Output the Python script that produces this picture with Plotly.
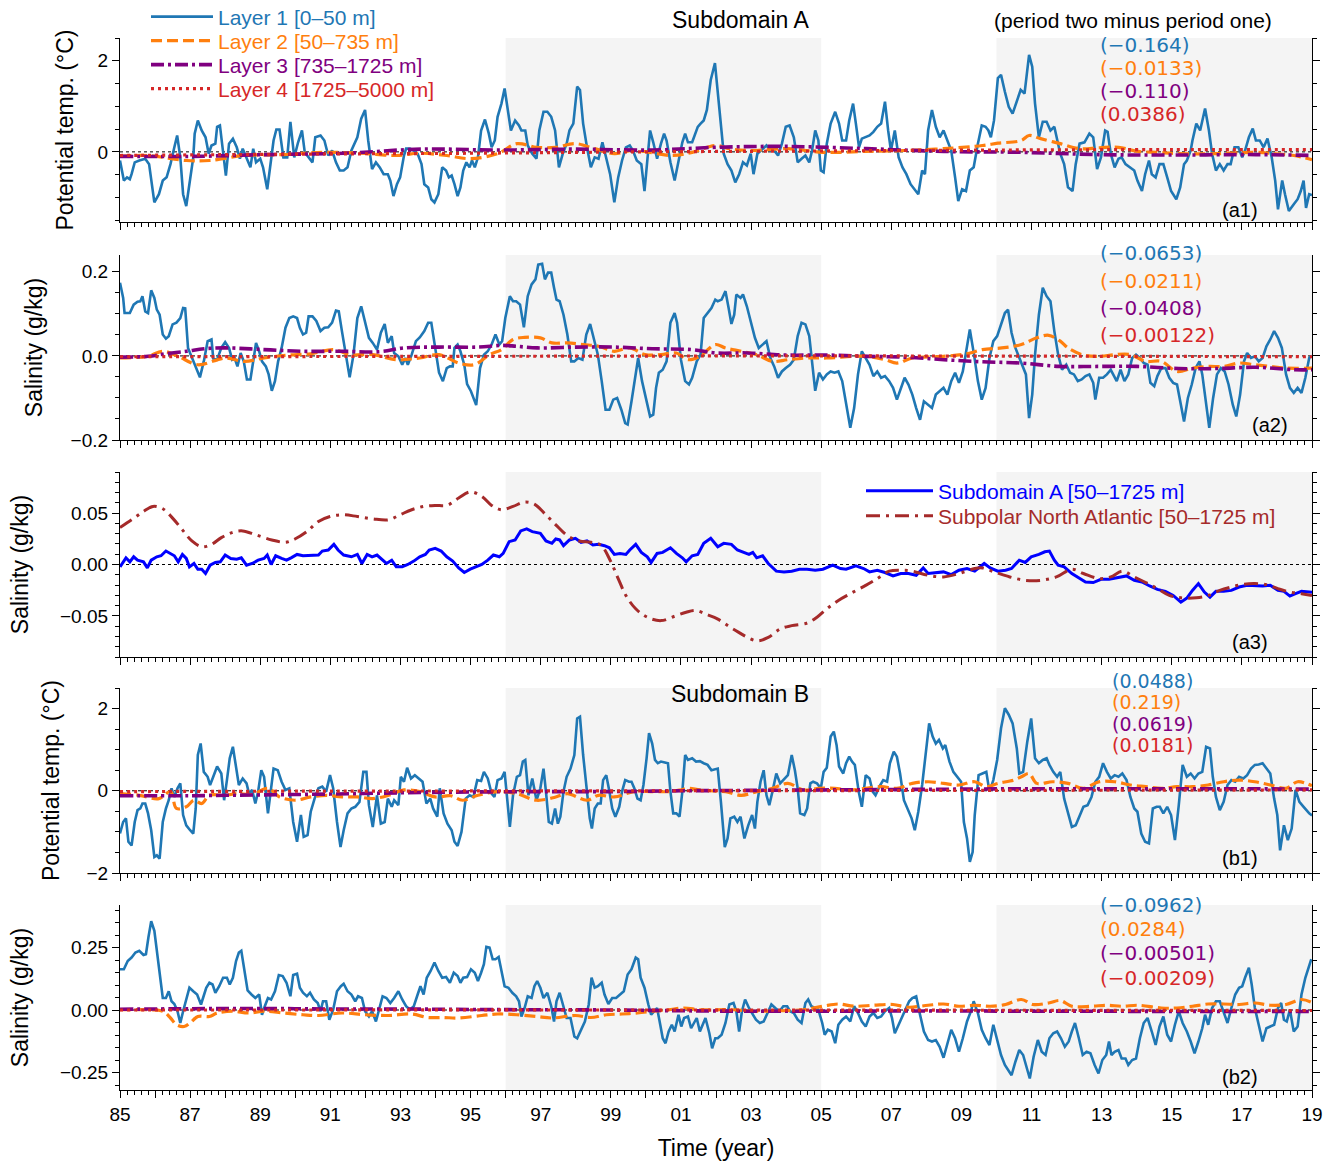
import plotly.graph_objects as go

# ---------------------------------------------------------------- data
# (year, anomaly) pairs
# Panel a1 – Subdomain A potential temperature (°C)
a1_l1 = [
(1985.00,-0.19),(1985.11,-0.63),(1985.20,-0.56),(1985.28,-0.60),(1985.33,-0.49),(1985.42,-0.23),(1985.55,-0.19),(1985.72,-0.15),(1985.83,-0.27),(1985.98,-1.11),
(1986.11,-0.93),(1986.22,-0.63),(1986.33,-0.56),(1986.44,-0.27),(1986.55,0.10),(1986.63,0.36),(1986.72,-0.12),(1986.80,-0.93),(1986.89,-1.19),
(1987.00,-0.56),(1987.09,-0.12),(1987.13,0.40),(1987.22,0.69),(1987.33,0.47),(1987.44,0.32),(1987.53,-0.04),(1987.61,0.14),(1987.72,0.18),(1987.77,0.55),(1987.85,0.58),(1987.92,0.10),
(1988.02,-0.52),(1988.11,0.18),(1988.22,0.29),(1988.33,0.10),(1988.42,-0.15),(1988.50,0.07),(1988.61,-0.15),(1988.72,-0.34),(1988.80,0.07),(1988.88,-0.23),
(1989.00,-0.15),(1989.08,-0.34),(1989.20,-0.82),(1989.31,-0.12),(1989.38,0.25),(1989.46,0.49),(1989.55,0.49),(1989.66,-0.12),(1989.77,-0.12),(1989.86,0.66),(1989.97,-0.12),
(1990.08,0.21),(1990.19,0.47),(1990.27,-0.01),(1990.38,-0.12),(1990.49,-0.23),(1990.57,0.32),(1990.72,0.36),(1990.83,0.25),(1990.94,-0.08),
(1991.05,0.03),(1991.16,-0.23),(1991.27,-0.41),(1991.38,-0.41),(1991.49,-0.34),(1991.60,0.03),(1991.77,0.32),(1991.88,0.73),(1991.99,0.92),
(1992.08,0.25),(1992.19,-0.38),(1992.30,-0.23),(1992.41,-0.34),(1992.52,-0.49),(1992.64,-0.49),(1992.71,-0.63),(1992.80,-0.97),(1992.90,-0.71),(1992.99,-0.56),
(1993.10,-0.08),(1993.16,0.07),(1993.27,0.07),(1993.38,0.03),(1993.49,-0.04),(1993.60,-0.27),(1993.68,-0.71),(1993.79,-0.78),(1993.88,-1.04),(1993.97,-1.11),
(1994.08,-0.93),(1994.19,-0.34),(1994.30,-0.41),(1994.38,-0.56),(1994.46,-0.52),(1994.54,-0.71),(1994.63,-0.97),(1994.71,-0.78),(1994.79,-0.41),(1994.88,-0.23),(1994.97,-0.34),
(1995.04,-0.19),(1995.12,-0.34),(1995.21,-0.12),(1995.30,0.47),(1995.41,0.71),(1995.52,0.40),(1995.60,0.10),(1995.69,0.25),(1995.77,0.77),(1995.88,1.06),(1995.97,1.39),
(1996.04,0.99),(1996.15,0.47),(1996.27,0.69),(1996.38,0.58),(1996.45,0.47),(1996.56,0.47),(1996.63,0.14),(1996.76,-0.04),(1996.88,-0.15),(1996.96,0.47),
(1997.08,0.88),(1997.19,0.88),(1997.30,0.77),(1997.41,0.47),(1997.52,-0.34),(1997.63,-0.04),(1997.74,0.18),(1997.82,0.47),(1997.93,0.62),
(1998.04,1.43),(1998.12,1.36),(1998.21,0.62),(1998.32,0.10),(1998.43,-0.34),(1998.54,-0.12),(1998.65,-0.15),(1998.76,0.21),(1998.87,-0.12),(1998.98,-0.49),
(1999.10,-1.11),(1999.21,-0.56),(1999.32,-0.19),(1999.43,0.10),(1999.54,0.14),(1999.63,0.03),(1999.74,-0.19),(1999.87,-0.27),(1999.96,-0.86),
(2000.04,-0.12),(2000.12,0.47),(2000.21,0.21),(2000.32,-0.15),(2000.43,0.18),(2000.52,0.40),(2000.59,0.25),(2000.70,-0.23),(2000.82,-0.63),(2000.93,-0.19),
(2001.04,0.21),(2001.12,0.40),(2001.20,0.21),(2001.32,0.21),(2001.37,0.32),(2001.48,0.55),(2001.56,0.62),(2001.65,0.69),(2001.74,0.92),(2001.85,1.58),(2001.97,1.95),
(2002.07,1.21),(2002.22,-0.04),(2002.33,-0.27),(2002.44,-0.41),(2002.55,-0.67),(2002.66,-0.49),(2002.77,-0.23),(2002.88,-0.30),(2002.99,-0.04),
(2003.07,-0.49),(2003.18,-0.04),(2003.33,0.07),(2003.44,0.14),(2003.55,0.03),(2003.66,0.03),(2003.77,-0.08),(2003.88,0.18),(2003.99,0.55),
(2004.10,0.58),(2004.22,0.32),(2004.33,-0.23),(2004.44,-0.15),(2004.55,-0.08),(2004.66,-0.23),(2004.74,0.03),(2004.83,0.47),(2004.92,0.25),(2004.99,-0.41),
(2005.07,-0.45),(2005.16,0.18),(2005.27,0.62),(2005.40,0.88),(2005.51,0.62),(2005.60,0.25),(2005.71,0.25),(2005.80,0.69),(2005.91,1.06),(2005.99,0.62),
(2006.08,0.10),(2006.16,0.29),(2006.25,0.32),(2006.38,0.36),(2006.49,0.44),(2006.60,0.55),(2006.71,0.62),(2006.82,1.10),(2006.91,0.47),(2006.99,0.03),
(2007.10,0.47),(2007.21,-0.12),(2007.32,-0.34),(2007.43,-0.49),(2007.55,-0.71),(2007.66,-0.82),(2007.77,-0.93),(2007.88,-0.41),(2007.96,-0.49),
(2008.05,0.47),(2008.16,0.92),(2008.27,0.55),(2008.38,0.32),(2008.49,0.47),(2008.60,0.25),(2008.71,0.03),(2008.82,-0.56),(2008.91,-1.08),
(2009.02,-0.82),(2009.13,-0.86),(2009.24,-0.41),(2009.35,-0.34),(2009.47,0.18),(2009.58,0.58),(2009.69,0.55),(2009.77,0.47),(2009.84,0.32),(2009.93,0.69),
(2010.04,1.62),(2010.13,1.69),(2010.24,1.32),(2010.35,0.99),(2010.46,0.84),(2010.58,1.14),(2010.69,1.36),(2010.80,1.28),(2010.93,2.13),
(2011.02,1.87),(2011.10,1.06),(2011.21,0.32),(2011.32,0.66),(2011.43,0.66),(2011.54,0.47),(2011.65,0.55),(2011.74,0.25),(2011.82,-0.04),(2011.93,-0.27),
(2012.04,-0.78),(2012.17,-0.86),(2012.26,-0.27),(2012.37,0.18),(2012.51,0.21),(2012.65,0.40),(2012.76,0.32),(2012.87,-0.38),(2012.98,-0.12),
(2013.10,0.47),(2013.17,0.44),(2013.26,-0.04),(2013.37,-0.34),(2013.48,-0.15),(2013.57,-0.12),(2013.68,-0.27),(2013.79,-0.34),(2013.93,-0.41),
(2014.02,-0.63),(2014.15,-0.86),(2014.24,-0.49),(2014.35,-0.19),(2014.43,-0.49),(2014.54,-0.56),(2014.65,-0.27),(2014.76,-0.27),(2014.87,-0.56),(2014.98,-0.86),
(2015.13,-1.04),(2015.24,-0.78),(2015.35,-0.27),(2015.43,-0.19),(2015.54,0.03),(2015.59,0.25),(2015.70,0.62),(2015.81,0.47),(2015.95,0.95),
(2016.06,0.47),(2016.15,-0.04),(2016.26,-0.41),(2016.37,-0.27),(2016.48,-0.41),(2016.59,-0.27),(2016.68,-0.27),(2016.79,0.10),(2016.90,0.10),
(2017.01,-0.12),(2017.09,0.03),(2017.20,0.32),(2017.31,0.51),(2017.40,0.25),(2017.51,0.25),(2017.62,0.10),(2017.73,0.29),(2017.85,-0.12),(2017.95,-0.63),
(2018.03,-1.26),(2018.15,-0.63),(2018.23,-0.93),(2018.34,-1.30),(2018.48,-1.15),(2018.59,-1.04),(2018.68,-0.86),(2018.76,-0.63),(2018.83,-1.23),(2018.92,-0.93),(2019.00,-0.95)]
a1_l2 = [(1985.00,-0.10),(1985.78,-0.08),(1986.89,-0.19),(1987.55,-0.19),(1988.55,-0.08),(1989.66,-0.06),(1990.77,-0.01),(1991.88,-0.03),(1992.88,-0.08),
(1993.55,-0.03),(1994.32,-0.08),(1994.99,-0.15),(1995.77,-0.04),(1996.32,0.18),(1996.88,0.10),(1997.43,0.10),(1997.99,0.18),(1998.54,0.07),(1999.10,-0.04),
(1999.65,0.03),(2000.76,-0.08),(2001.32,-0.01),(2001.98,0.14),(2002.38,0.07),(2002.94,0.03),(2004.05,0.07),(2005.05,-0.01),(2006.27,0.01),(2007.38,0.03),
(2008.49,0.07),(2009.60,0.14),(2010.04,0.19),(2010.71,0.25),(2010.93,0.36),(2011.26,0.29),(2011.82,0.18),(2012.37,0.07),(2012.93,0.09),(2013.48,0.10),
(2014.04,0.01),(2014.59,-0.01),(2015.15,-0.04),(2016.26,-0.04),(2017.37,-0.01),(2017.92,-0.04),(2018.48,-0.08),(2019.00,-0.17)]
a1_l3 = [(1985.0,-0.10),(1987.0,-0.10),(1989.2,-0.06),(1991.4,-0.03),(1993.6,0.06),(1995.8,0.04),(1998.0,0.06),(2000.2,0.04),(2002.0,0.10),(2004.0,0.12),
(2006.3,0.07),(2008.5,0.01),(2010.7,-0.01),(2012.9,-0.06),(2015.1,-0.07),(2017.4,-0.06),(2019.0,-0.08)]
a1_l4 = [(1985.0,-0.08),(1990.0,-0.05),(1995.0,-0.03),(2000.0,0.0),(2005.0,0.02),(2010.0,0.04),(2015.0,0.05),(2019.0,0.05)]

# Panel a2 – Subdomain A salinity (g/kg)
a2_l1 = [
(1985.00,0.174),(1985.09,0.138),(1985.13,0.102),(1985.28,0.102),(1985.39,0.122),(1985.50,0.129),(1985.58,0.130),(1985.64,0.142),(1985.72,0.106),(1985.80,0.102),(1985.89,0.156),(1985.98,0.138),
(1986.05,0.110),(1986.13,0.098),(1986.22,0.051),(1986.31,0.041),(1986.39,0.047),(1986.50,0.075),(1986.61,0.079),(1986.72,0.090),(1986.80,0.114),(1986.86,0.113),(1986.94,0.019),
(1987.05,-0.005),(1987.16,-0.029),(1987.28,-0.051),(1987.39,-0.013),(1987.50,0.035),(1987.61,0.039),(1987.66,-0.006),(1987.77,-0.009),(1987.89,0.019),
(1988.00,0.033),(1988.11,0.019),(1988.20,-0.009),(1988.27,-0.005),(1988.35,-0.025),(1988.44,0.007),(1988.53,-0.013),(1988.62,-0.056),(1988.72,-0.056),(1988.80,-0.013),(1988.88,0.031),(1988.97,0.011),
(1989.05,-0.013),(1989.16,-0.025),(1989.24,-0.044),(1989.33,-0.083),(1989.42,-0.060),(1989.51,-0.013),(1989.61,0.019),(1989.72,0.067),(1989.83,0.090),(1989.94,0.094),
(1990.05,0.090),(1990.13,0.067),(1990.22,0.051),(1990.31,0.055),(1990.38,0.094),(1990.49,0.094),(1990.60,0.083),(1990.72,0.059),(1990.83,0.067),(1990.94,0.068),
(1991.05,0.079),(1991.16,0.108),(1991.24,0.106),(1991.33,0.059),(1991.44,0.003),(1991.55,-0.051),(1991.66,0.003),(1991.77,0.090),(1991.88,0.118),(1991.99,0.079),
(1992.10,0.043),(1992.21,0.031),(1992.33,0.015),(1992.44,0.055),(1992.55,0.076),(1992.64,0.031),(1992.75,0.047),(1992.82,0.007),(1992.94,-0.001),
(1993.05,-0.021),(1993.14,-0.005),(1993.21,-0.021),(1993.32,0.003),(1993.44,0.035),(1993.55,0.044),(1993.68,0.059),(1993.79,0.079),(1993.88,0.079),(1993.99,0.019),
(1994.10,-0.040),(1994.21,-0.060),(1994.32,-0.029),(1994.41,-0.025),(1994.49,-0.025),(1994.54,0.019),(1994.63,0.027),(1994.71,0.011),(1994.82,-0.021),(1994.90,-0.067),
(1995.01,-0.084),(1995.16,-0.117),(1995.27,-0.029),(1995.38,0.003),(1995.49,0.011),(1995.60,0.027),(1995.71,0.051),(1995.82,0.027),(1995.90,0.035),(1995.99,0.090),
(1996.12,0.142),(1996.21,0.130),(1996.30,0.130),(1996.41,0.122),(1996.52,0.068),(1996.63,0.142),(1996.74,0.170),(1996.85,0.182),(1996.93,0.217),
(1997.04,0.219),(1997.12,0.182),(1997.21,0.198),(1997.30,0.198),(1997.38,0.162),(1997.45,0.134),(1997.54,0.130),(1997.65,0.098),(1997.76,0.051),(1997.87,-0.013),(1997.96,-0.013),
(1998.07,-0.005),(1998.19,-0.009),(1998.30,0.051),(1998.41,0.076),(1998.52,0.039),(1998.63,0.003),(1998.74,-0.060),(1998.85,-0.128),(1998.96,-0.128),
(1999.07,-0.104),(1999.18,-0.100),(1999.30,-0.128),(1999.41,-0.160),(1999.48,-0.163),(1999.59,-0.108),(1999.71,-0.044),(1999.78,-0.005),(1999.89,-0.060),
(2000.01,-0.108),(2000.12,-0.144),(2000.21,-0.140),(2000.29,-0.076),(2000.37,-0.040),(2000.48,-0.033),(2000.59,-0.013),(2000.70,0.079),(2000.82,0.102),(2000.89,0.079),
(2001.00,-0.009),(2001.12,-0.060),(2001.23,-0.068),(2001.32,-0.052),(2001.45,-0.013),(2001.56,0.003),(2001.65,0.090),(2001.76,0.102),(2001.87,0.114),(2001.98,0.134),
(2002.05,0.130),(2002.16,0.134),(2002.27,0.154),(2002.36,0.114),(2002.44,0.076),(2002.52,0.098),(2002.58,0.146),(2002.70,0.138),(2002.77,0.146),(2002.88,0.118),(2002.99,0.083),
(2003.11,0.043),(2003.22,0.019),(2003.33,0.027),(2003.44,0.035),(2003.55,-0.005),(2003.66,-0.025),(2003.77,-0.052),(2003.88,-0.037),(2003.99,-0.029),
(2004.11,-0.021),(2004.22,-0.009),(2004.33,0.047),(2004.44,0.079),(2004.55,0.075),(2004.66,0.047),(2004.74,-0.013),(2004.83,-0.083),(2004.94,-0.040),
(2005.05,-0.056),(2005.16,-0.044),(2005.27,-0.037),(2005.38,-0.040),(2005.49,-0.037),(2005.60,-0.060),(2005.71,-0.116),(2005.83,-0.171),(2005.94,-0.124),
(2006.05,-0.044),(2006.16,0.011),(2006.27,-0.005),(2006.38,-0.021),(2006.49,-0.048),(2006.60,-0.037),(2006.71,-0.052),(2006.82,-0.048),(2006.94,-0.060),
(2007.05,-0.076),(2007.16,-0.104),(2007.27,-0.076),(2007.38,-0.052),(2007.49,-0.068),(2007.60,-0.092),(2007.71,-0.124),(2007.82,-0.152),(2007.93,-0.108),
(2008.05,-0.116),(2008.16,-0.124),(2008.27,-0.092),(2008.38,-0.084),(2008.49,-0.076),(2008.60,-0.092),(2008.71,-0.060),(2008.82,-0.040),(2008.93,-0.064),
(2009.04,-0.037),(2009.16,0.019),(2009.24,0.063),(2009.36,0.003),(2009.47,-0.060),(2009.58,-0.104),(2009.69,-0.076),(2009.80,-0.005),(2009.91,0.035),
(2010.02,0.047),(2010.13,0.075),(2010.24,0.102),(2010.33,0.110),(2010.43,0.055),(2010.54,0.019),(2010.65,-0.005),(2010.76,-0.029),(2010.84,-0.044),(2010.93,-0.148),
(2011.02,-0.092),(2011.10,0.003),(2011.21,0.098),(2011.32,0.162),(2011.43,0.142),(2011.54,0.130),(2011.65,0.059),(2011.76,0.003),(2011.87,-0.033),(2011.99,-0.021),
(2012.10,-0.040),(2012.21,-0.044),(2012.32,-0.060),(2012.43,-0.056),(2012.54,-0.048),(2012.65,-0.044),(2012.76,-0.064),(2012.82,-0.104),(2012.93,-0.052),
(2013.04,-0.052),(2013.15,-0.044),(2013.26,-0.033),(2013.43,-0.060),(2013.54,-0.033),(2013.65,-0.060),(2013.76,-0.044),(2013.87,-0.005),(2013.98,0.003),
(2014.09,-0.005),(2014.20,-0.017),(2014.31,-0.021),(2014.39,-0.064),(2014.50,-0.072),(2014.59,-0.048),(2014.70,-0.029),(2014.82,-0.029),(2014.93,-0.052),
(2015.04,-0.064),(2015.15,-0.068),(2015.26,-0.116),(2015.35,-0.156),(2015.46,-0.100),(2015.57,-0.068),(2015.68,-0.029),(2015.79,-0.013),(2015.87,-0.044),(2015.98,-0.116),
(2016.07,-0.171),(2016.18,-0.100),(2016.29,-0.044),(2016.40,-0.029),(2016.51,-0.037),(2016.62,-0.068),(2016.74,-0.116),(2016.84,-0.144),(2016.95,-0.092),
(2017.06,-0.013),(2017.15,0.007),(2017.26,-0.005),(2017.37,-0.001),(2017.48,-0.013),(2017.59,-0.005),(2017.70,0.023),(2017.81,0.039),(2017.92,0.059),
(2018.03,0.043),(2018.14,0.019),(2018.26,-0.044),(2018.37,-0.076),(2018.48,-0.088),(2018.59,-0.076),(2018.70,-0.088),(2018.81,-0.052),(2018.92,-0.005),(2019.00,0.000)]
a2_l2 = [(1985.00,-0.005),(1985.78,-0.001),(1986.22,0.011),(1986.66,-0.001),(1987.22,-0.021),(1988.00,-0.005),(1988.55,-0.013),(1989.11,-0.005),(1989.77,0.002),
(1990.44,0.005),(1991.10,0.015),(1991.55,0.003),(1992.21,0.003),(1992.88,-0.009),(1993.55,-0.005),(1994.10,0.003),(1994.66,-0.017),(1995.10,-0.021),(1995.54,0.003),
(1995.88,0.015),(1996.21,0.039),(1996.54,0.044),(1996.99,0.043),(1997.32,0.031),(1997.76,0.031),(1998.21,0.027),(1998.65,0.023),(1999.10,0.011),(1999.54,0.019),
(1999.98,0.003),(2000.43,0.003),(2000.87,0.007),(2001.20,-0.009),(2001.54,-0.001),(2001.98,0.027),(2002.27,0.019),(2002.72,0.011),(2003.16,0.003),(2003.61,-0.013),
(2004.05,-0.009),(2004.60,-0.005),(2005.16,-0.005),(2006.27,-0.001),(2006.82,-0.009),(2007.16,-0.017),(2007.60,-0.005),(2008.49,-0.001),(2009.16,0.005),(2009.60,0.015),
(2010.15,0.019),(2010.71,0.027),(2011.15,0.043),(2011.49,0.049),(2011.82,0.035),(2012.04,0.019),(2012.48,0.002),(2012.93,-0.001),(2013.37,0.003),(2013.82,0.003),
(2014.26,-0.013),(2014.70,-0.013),(2015.15,-0.037),(2015.59,-0.029),(2016.04,-0.025),(2016.48,-0.025),(2016.92,-0.017),(2017.37,-0.021),(2017.81,-0.025),(2018.26,-0.029),(2019.00,-0.029)]
a2_l3 = [(1985.0,-0.003),(1985.8,-0.001),(1986.3,0.005),(1986.9,0.011),(1987.4,0.017),(1988.0,0.019),(1989.1,0.015),(1990.2,0.011),(1991.3,0.011),(1992.4,0.010),
(1993.1,0.019),(1994.1,0.021),(1995.2,0.021),(1995.9,0.025),(1996.3,0.023),(1996.9,0.019),(1998.0,0.021),(1999.1,0.021),(2000.2,0.017),(2001.3,0.015),(2002.0,0.007),
(2002.9,0.007),(2004.0,0.002),(2005.2,0.002),(2006.3,-0.001),(2007.4,-0.003),(2008.5,-0.009),(2009.6,-0.014),(2010.7,-0.017),(2011.8,-0.025),(2012.9,-0.025),
(2014.0,-0.025),(2015.2,-0.030),(2016.3,-0.030),(2017.4,-0.027),(2018.5,-0.033),(2019.0,-0.033)]
a2_l4 = [(1985.0,-0.002),(1995.0,-0.001),(2005.0,0.000),(2019.0,-0.002)]

# Panel a3 – salinity 50–1725 m (g/kg)
a3_sub_a = [
(1985.00,-0.0023),(1985.17,0.0065),(1985.28,0.0026),(1985.39,0.0075),(1985.50,0.0042),(1985.67,0.0026),(1985.78,-0.0033),(1985.89,0.0042),(1986.05,0.0075),(1986.17,0.0085),
(1986.31,0.0131),(1986.42,0.0108),(1986.55,0.0085),(1986.66,0.0026),(1986.78,0.0098),(1986.89,0.0059),(1986.98,-0.0023),(1987.11,0.0010),(1987.22,-0.0046),(1987.33,-0.0046),
(1987.44,-0.0088),(1987.57,-0.0007),(1987.72,0.0020),(1987.86,0.0026),(1988.00,0.0092),(1988.16,0.0059),(1988.33,0.0052),(1988.46,0.0065),(1988.61,-0.0007),(1988.77,0.0010),
(1988.94,0.0042),(1989.11,0.0059),(1989.20,0.0092),(1989.31,0.0000),(1989.44,0.0085),(1989.61,0.0059),(1989.75,0.0042),(1989.88,0.0065),(1990.05,0.0098),(1990.22,0.0085),
(1990.44,0.0085),(1990.66,0.0092),(1990.77,0.0131),(1990.94,0.0141),(1991.10,0.0196),(1991.22,0.0141),(1991.38,0.0092),(1991.60,0.0075),(1991.77,0.0098),(1991.90,0.0010),
(1992.05,0.0098),(1992.19,0.0075),(1992.33,0.0092),(1992.44,0.0059),(1992.60,0.0010),(1992.75,0.0042),(1992.88,-0.0023),(1993.05,-0.0023),(1993.21,0.0000),(1993.38,0.0033),
(1993.55,0.0075),(1993.71,0.0098),(1993.82,0.0141),(1993.99,0.0157),(1994.16,0.0131),(1994.32,0.0075),(1994.49,0.0033),(1994.66,-0.0033),(1994.82,-0.0078),(1994.99,-0.0046),
(1995.16,-0.0023),(1995.32,0.0000),(1995.49,0.0042),(1995.65,0.0092),(1995.82,0.0075),(1995.93,0.0108),(1996.10,0.0222),(1996.27,0.0239),(1996.43,0.0327),(1996.60,0.0346),
(1996.76,0.0320),(1996.99,0.0304),(1997.15,0.0229),(1997.32,0.0206),(1997.43,0.0248),(1997.54,0.0239),(1997.65,0.0183),(1997.82,0.0239),(1997.99,0.0255),(1998.15,0.0216),
(1998.32,0.0229),(1998.49,0.0190),(1998.65,0.0196),(1998.82,0.0183),(1998.96,0.0163),(1999.10,0.0098),(1999.26,0.0108),(1999.43,0.0098),(1999.54,0.0141),(1999.71,0.0196),
(1999.87,0.0118),(2000.04,0.0075),(2000.15,0.0020),(2000.32,0.0108),(2000.48,0.0118),(2000.70,0.0163),(2000.87,0.0108),(2001.04,0.0065),(2001.15,0.0026),(2001.32,0.0085),
(2001.48,0.0098),(2001.65,0.0206),(2001.85,0.0255),(2002.05,0.0173),(2002.22,0.0206),(2002.44,0.0196),(2002.61,0.0141),(2002.77,0.0118),(2002.94,0.0098),(2003.05,0.0118),
(2003.16,0.0065),(2003.33,0.0085),(2003.49,0.0010),(2003.72,-0.0065),(2003.94,-0.0072),(2004.16,-0.0065),(2004.38,-0.0046),(2004.60,-0.0046),(2004.83,-0.0056),(2005.05,-0.0046),
(2005.33,-0.0007),(2005.55,-0.0039),(2005.71,-0.0046),(2005.99,-0.0013),(2006.21,-0.0039),(2006.38,-0.0072),(2006.60,-0.0056),(2006.82,-0.0078),(2007.05,-0.0111),(2007.27,-0.0088),
(2007.49,-0.0088),(2007.71,-0.0105),(2007.91,-0.0033),(2008.05,-0.0088),(2008.27,-0.0078),(2008.49,-0.0072),(2008.71,-0.0098),(2008.93,-0.0056),(2009.16,-0.0039),(2009.38,-0.0065),
(2009.65,0.0010),(2009.82,-0.0033),(2010.04,-0.0065),(2010.26,-0.0056),(2010.43,-0.0039),(2010.65,0.0042),(2010.82,0.0020),(2010.99,0.0075),(2011.21,0.0098),(2011.38,0.0124),
(2011.51,0.0131),(2011.65,0.0042),(2011.76,-0.0007),(2011.93,-0.0023),(2012.15,-0.0088),(2012.32,-0.0121),(2012.54,-0.0170),(2012.76,-0.0176),(2012.98,-0.0144),(2013.21,-0.0144),
(2013.43,-0.0131),(2013.71,-0.0111),(2013.93,-0.0154),(2014.15,-0.0170),(2014.37,-0.0209),(2014.59,-0.0242),(2014.82,-0.0261),(2015.04,-0.0301),(2015.26,-0.0366),(2015.43,-0.0327),
(2015.59,-0.0252),(2015.76,-0.0186),(2015.93,-0.0268),(2016.09,-0.0317),(2016.26,-0.0261),(2016.48,-0.0261),(2016.70,-0.0252),(2016.92,-0.0219),(2017.15,-0.0203),(2017.37,-0.0209),
(2017.59,-0.0209),(2017.81,-0.0203),(2018.03,-0.0252),(2018.20,-0.0261),(2018.37,-0.0307),(2018.53,-0.0284),(2018.70,-0.0261),(2018.92,-0.0268),(2019.00,-0.0270)]
a3_spna = [
(1985.00,0.0359),(1985.33,0.0435),(1985.67,0.0516),(1985.94,0.0565),(1986.22,0.0542),(1986.50,0.0451),(1986.78,0.0337),(1987.05,0.0229),(1987.33,0.0173),(1987.61,0.0196),
(1987.89,0.0261),(1988.22,0.0314),(1988.50,0.0327),(1988.88,0.0288),(1989.33,0.0239),(1989.72,0.0216),(1989.99,0.0248),(1990.33,0.0320),(1990.66,0.0418),(1990.99,0.0467),
(1991.33,0.0484),(1991.77,0.0467),(1992.21,0.0444),(1992.66,0.0435),(1992.99,0.0484),(1993.32,0.0533),(1993.66,0.0565),(1993.99,0.0575),(1994.32,0.0575),(1994.66,0.0647),
(1994.99,0.0706),(1995.32,0.0663),(1995.60,0.0575),(1995.88,0.0533),(1996.21,0.0565),(1996.54,0.0608),(1996.82,0.0588),(1997.10,0.0500),(1997.43,0.0386),(1997.76,0.0281),
(1998.10,0.0229),(1998.43,0.0216),(1998.71,0.0190),(1998.98,0.0042),(1999.21,-0.0137),(1999.43,-0.0301),(1999.71,-0.0431),(2000.04,-0.0513),(2000.43,-0.0546),(2000.82,-0.0503),
(2001.15,-0.0464),(2001.43,-0.0448),(2001.76,-0.0490),(2002.04,-0.0529),(2002.50,-0.0630),(2003.16,-0.0742),(2003.49,-0.0709),(2003.83,-0.0627),(2004.16,-0.0595),(2004.60,-0.0569),
(2004.88,-0.0513),(2005.16,-0.0431),(2005.49,-0.0350),(2005.83,-0.0284),(2006.27,-0.0203),(2006.60,-0.0137),(2006.94,-0.0065),(2007.27,-0.0056),(2007.60,-0.0065),(2008.05,-0.0105),
(2008.49,-0.0121),(2008.93,-0.0088),(2009.38,-0.0039),(2009.60,-0.0033),(2009.93,-0.0072),(2010.38,-0.0121),(2010.82,-0.0154),(2011.26,-0.0154),(2011.71,-0.0121),(2012.15,-0.0046),
(2012.48,-0.0088),(2012.93,-0.0137),(2013.26,-0.0121),(2013.59,-0.0065),(2013.93,-0.0121),(2014.26,-0.0176),(2014.59,-0.0235),(2014.93,-0.0301),(2015.26,-0.0324),(2015.70,-0.0324),
(2016.04,-0.0301),(2016.37,-0.0252),(2016.70,-0.0219),(2017.04,-0.0193),(2017.37,-0.0186),(2017.70,-0.0196),(2018.03,-0.0235),(2018.37,-0.0268),(2018.70,-0.0284),(2019.00,-0.0301)]

# Panel b1 – Subdomain B potential temperature (°C)
b1_l1 = [
(1985.00,-1.04),(1985.09,-0.76),(1985.17,-0.67),(1985.24,-1.24),(1985.33,-1.33),(1985.42,-0.76),(1985.50,-0.47),(1985.58,-0.43),(1985.64,-0.31),(1985.72,-0.31),(1985.80,-0.55),(1985.89,-0.96),(1985.98,-1.61),
(1986.05,-1.57),(1986.13,-1.65),(1986.22,-0.76),(1986.31,-0.43),(1986.39,-0.23),(1986.47,0.06),(1986.55,-0.15),(1986.64,0.06),(1986.72,0.18),(1986.80,-0.59),(1986.89,-0.84),
(1987.00,-0.96),(1987.09,-1.04),(1987.16,-0.43),(1987.22,0.87),(1987.30,1.15),(1987.39,0.46),(1987.50,0.34),(1987.57,0.14),(1987.66,0.34),(1987.77,0.59),(1987.89,0.42),(1987.97,-0.23),
(1988.05,0.26),(1988.13,0.79),(1988.22,1.07),(1988.31,0.63),(1988.39,0.14),(1988.50,0.30),(1988.61,0.18),(1988.68,-0.07),(1988.77,0.02),(1988.86,-0.31),(1988.94,-0.02),
(1989.03,0.50),(1989.11,0.34),(1989.22,-0.55),(1989.31,0.14),(1989.38,0.54),(1989.50,0.50),(1989.61,0.22),(1989.72,0.02),(1989.83,0.06),(1989.94,-0.76),
(1990.05,-1.24),(1990.16,-0.59),(1990.24,-1.12),(1990.35,-1.08),(1990.44,-0.51),(1990.55,-0.19),(1990.66,0.06),(1990.77,0.10),(1990.88,-0.02),(1990.99,0.38),
(1991.08,0.06),(1991.19,-0.76),(1991.29,-1.37),(1991.38,-0.96),(1991.49,-0.55),(1991.60,-0.43),(1991.71,-0.39),(1991.83,-0.27),(1991.94,0.46),
(1992.03,0.46),(1992.10,-0.35),(1992.21,-0.88),(1992.33,-0.11),(1992.44,-0.80),(1992.55,-0.76),(1992.64,-0.19),(1992.75,-0.39),(1992.82,-0.23),(1992.94,-0.35),
(1993.01,0.34),(1993.10,0.22),(1993.19,0.56),(1993.30,0.30),(1993.41,0.38),(1993.52,0.30),(1993.63,0.22),(1993.74,-0.31),(1993.85,-0.19),(1993.93,-0.43),
(1994.05,-0.63),(1994.12,0.06),(1994.23,-0.55),(1994.34,-0.80),(1994.46,-0.96),(1994.54,-1.24),(1994.63,-1.34),(1994.74,-1.00),(1994.86,-0.19),(1994.97,-0.11),
(1995.08,-0.15),(1995.19,0.26),(1995.30,0.24),(1995.38,0.46),(1995.49,0.30),(1995.60,-0.07),(1995.68,-0.15),(1995.77,0.26),(1995.88,0.30),(1995.97,0.46),
(1996.04,-0.15),(1996.12,-0.88),(1996.21,-0.11),(1996.32,0.34),(1996.41,0.38),(1996.49,0.71),(1996.56,0.75),(1996.65,-0.11),(1996.76,0.30),(1996.88,-0.23),(1996.99,0.06),
(1997.08,0.54),(1997.15,-0.02),(1997.23,-0.76),(1997.32,-0.80),(1997.41,-0.43),(1997.49,-0.80),(1997.56,-0.63),(1997.65,-0.02),(1997.74,0.34),(1997.85,0.54),(1997.96,0.87),
(1998.04,1.76),(1998.12,1.80),(1998.21,0.87),(1998.32,-0.02),(1998.40,-0.67),(1998.46,-0.92),(1998.54,-0.43),(1998.63,-0.31),(1998.71,-0.31),(1998.78,0.26),(1998.87,0.38),(1998.96,-0.02),
(1999.04,-0.43),(1999.13,-0.63),(1999.24,-0.39),(1999.32,-0.02),(1999.41,0.26),(1999.52,0.22),(1999.59,0.22),(1999.67,0.06),(1999.76,-0.19),(1999.85,-0.23),(1999.93,0.14),
(2000.02,0.79),(2000.09,1.40),(2000.18,1.15),(2000.26,0.75),(2000.34,0.67),(2000.43,0.71),(2000.54,0.69),(2000.63,0.67),(2000.70,-0.02),(2000.78,-0.55),(2000.87,-0.55),(2000.96,-0.63),
(2001.04,-0.02),(2001.12,0.87),(2001.20,0.75),(2001.32,0.79),(2001.43,0.71),(2001.54,0.72),(2001.65,0.67),(2001.76,0.63),(2001.87,0.50),(2001.96,0.52),
(2002.05,0.54),(2002.14,-0.27),(2002.25,-1.37),(2002.33,-1.16),(2002.41,-0.67),(2002.52,-0.63),(2002.61,-0.76),(2002.70,-0.63),(2002.81,-1.16),(2002.92,-0.84),
(2003.03,-0.59),(2003.11,-0.92),(2003.18,-0.27),(2003.27,0.22),(2003.36,0.50),(2003.44,-0.11),(2003.52,-0.35),(2003.61,-0.02),(2003.72,0.42),(2003.83,0.18),(2003.96,0.30),
(2004.05,0.38),(2004.16,0.87),(2004.25,0.50),(2004.33,0.06),(2004.40,-0.55),(2004.52,-0.59),(2004.60,-0.43),(2004.69,0.18),(2004.77,0.22),(2004.88,0.18),(2004.99,0.06),
(2005.07,0.46),(2005.16,0.56),(2005.27,1.32),(2005.36,1.44),(2005.44,1.11),(2005.51,0.59),(2005.63,0.42),(2005.71,0.67),(2005.80,0.83),(2005.88,0.71),(2005.96,0.63),
(2006.07,-0.02),(2006.16,-0.39),(2006.27,0.38),(2006.38,0.30),(2006.47,-0.02),(2006.55,-0.11),(2006.66,0.10),(2006.77,0.26),(2006.88,0.22),(2006.96,0.67),
(2007.07,0.95),(2007.16,0.83),(2007.25,0.42),(2007.36,-0.23),(2007.47,-0.47),(2007.58,-0.67),(2007.67,-0.96),(2007.77,-0.51),(2007.88,0.14),(2007.99,0.95),
(2008.08,1.64),(2008.18,1.32),(2008.27,1.15),(2008.36,1.24),(2008.47,1.03),(2008.54,1.11),(2008.66,0.71),(2008.77,0.46),(2008.88,0.34),(2008.99,0.22),
(2009.07,-0.76),(2009.16,-1.16),(2009.24,-1.73),(2009.32,-1.49),(2009.38,-0.59),(2009.49,0.38),(2009.60,0.42),(2009.71,0.46),(2009.80,-0.02),(2009.91,0.26),
(2010.02,0.75),(2010.13,1.52),(2010.24,2.01),(2010.35,1.85),(2010.46,1.64),(2010.58,1.03),(2010.65,0.42),(2010.76,0.46),(2010.88,1.20),(2010.99,1.76),
(2011.10,0.79),(2011.21,0.67),(2011.32,0.75),(2011.43,0.79),(2011.51,0.63),(2011.62,0.46),(2011.73,0.34),(2011.82,0.46),(2011.93,-0.19),
(2012.04,-0.55),(2012.15,-0.88),(2012.26,-0.84),(2012.37,-0.59),(2012.48,-0.39),(2012.60,-0.35),(2012.71,-0.15),(2012.82,0.22),(2012.93,0.34),
(2013.04,0.67),(2013.15,0.46),(2013.26,0.30),(2013.37,0.38),(2013.48,0.34),(2013.59,0.42),(2013.71,0.26),(2013.82,-0.15),(2013.93,-0.43),
(2014.02,-0.51),(2014.13,-1.04),(2014.24,-1.24),(2014.35,-1.28),(2014.46,-0.43),(2014.57,-0.39),(2014.66,-0.39),(2014.76,-0.55),(2014.87,-0.39),(2014.98,-0.59),
(2015.09,-1.20),(2015.20,-0.35),(2015.31,0.63),(2015.43,0.34),(2015.54,0.42),(2015.65,0.30),(2015.76,0.42),(2015.87,0.46),(2015.98,1.07),
(2016.09,1.03),(2016.17,0.34),(2016.26,-0.15),(2016.37,-0.47),(2016.48,-0.27),(2016.59,0.14),(2016.70,0.26),(2016.81,0.22),(2016.92,0.34),
(2017.04,0.30),(2017.15,0.38),(2017.26,0.54),(2017.37,0.63),(2017.48,0.64),(2017.59,0.67),(2017.70,0.54),(2017.81,0.42),(2017.92,-0.19),
(2018.01,-0.59),(2018.09,-1.45),(2018.20,-0.84),(2018.31,-1.20),(2018.42,-0.92),(2018.53,0.02),(2018.64,-0.27),(2018.76,-0.39),(2018.92,-0.55),(2019.00,-0.60)]
b1_l2 = [(1985.00,-0.07),(1985.55,-0.11),(1986.11,-0.19),(1986.44,-0.02),(1986.61,-0.43),(1986.89,-0.39),(1987.11,-0.23),(1987.33,-0.31),(1987.55,-0.11),(1988.00,-0.11),
(1988.33,-0.07),(1988.77,-0.09),(1989.22,0.06),(1989.55,-0.15),(1989.99,-0.23),(1990.44,-0.15),(1990.88,-0.11),(1991.33,-0.15),(1991.77,-0.15),(1992.21,-0.19),
(1992.66,-0.11),(1993.10,0.02),(1993.55,-0.02),(1993.99,-0.15),(1994.43,-0.12),(1994.77,-0.23),(1995.21,-0.11),(1995.77,-0.02),(1996.32,-0.07),(1996.88,-0.23),
(1997.43,-0.15),(1997.76,-0.07),(1998.32,-0.23),(1998.65,-0.11),(1999.10,-0.15),(1999.65,-0.02),(2000.21,-0.02),(2000.65,-0.02),(2000.98,0.02),(2001.20,0.06),
(2001.54,0.02),(2001.98,-0.01),(2002.27,-0.02),(2002.72,-0.11),(2003.16,-0.02),(2003.61,0.06),(2004.05,0.18),(2004.49,0.02),(2004.94,0.06),(2005.38,0.06),
(2005.83,0.02),(2006.27,0.06),(2006.71,0.10),(2007.16,0.06),(2007.60,0.18),(2008.05,0.22),(2008.49,0.18),(2008.93,0.14),(2009.38,0.22),(2009.71,0.10),
(2010.04,0.18),(2010.49,0.26),(2010.71,0.34),(2010.93,0.42),(2011.15,0.18),(2011.60,0.22),(2012.04,0.18),(2012.48,0.06),(2012.93,0.22),(2013.37,0.22),
(2013.82,0.14),(2014.26,0.10),(2014.70,0.06),(2015.15,0.10),(2015.59,0.10),(2016.04,0.14),(2016.48,0.22),(2016.92,0.26),(2017.37,0.22),(2017.81,0.14),
(2018.26,0.06),(2018.59,0.22),(2019.00,0.12)]
b1_l3 = [(1985,-0.12),(1987,-0.12),(1989,-0.10),(1991,-0.08),(1993,-0.05),(1995,-0.03),(1997,-0.02),(1999,-0.02),(2001,0.0),(2003,0.01),(2005,0.02),(2007,0.03),
(2009,0.04),(2011,0.05),(2013,0.05),(2015,0.05),(2017,0.05),(2019,0.04)]
b1_l4 = [(1985,-0.02),(1990,-0.01),(2000,0.0),(2010,0.01),(2019,0.02)]

# Panel b2 – Subdomain B salinity (g/kg)
b2_l1 = [
(1985.00,0.163),(1985.11,0.163),(1985.22,0.196),(1985.33,0.210),(1985.44,0.230),(1985.55,0.237),(1985.67,0.220),(1985.74,0.223),(1985.81,0.290),(1985.89,0.355),(1985.98,0.317),
(1986.05,0.237),(1986.13,0.156),(1986.22,0.048),(1986.31,0.048),(1986.39,0.075),(1986.47,0.035),(1986.55,0.024),(1986.64,-0.005),(1986.72,-0.052),(1986.80,-0.005),(1986.89,0.048),(1986.98,0.089),
(1987.09,0.075),(1987.20,0.062),(1987.31,0.022),(1987.39,0.062),(1987.46,0.089),(1987.55,0.109),(1987.64,0.102),(1987.72,0.069),(1987.83,0.095),(1987.94,0.129),
(1988.05,0.129),(1988.13,0.102),(1988.22,0.129),(1988.31,0.196),(1988.39,0.230),(1988.46,0.237),(1988.55,0.163),(1988.64,0.078),(1988.75,0.062),(1988.86,0.048),(1988.97,0.062),
(1989.05,-0.019),(1989.13,0.015),(1989.22,0.048),(1989.31,0.042),(1989.42,0.075),(1989.53,0.140),(1989.64,0.136),(1989.75,0.109),(1989.86,0.055),(1989.94,0.140),
(1990.05,0.145),(1990.13,0.089),(1990.22,0.069),(1990.33,0.055),(1990.42,0.069),(1990.53,0.042),(1990.64,0.028),(1990.72,-0.005),(1990.79,0.035),(1990.88,0.035),(1990.97,-0.039),
(1991.08,0.001),(1991.19,0.075),(1991.30,0.095),(1991.38,0.105),(1991.49,0.075),(1991.60,0.062),(1991.71,0.035),(1991.79,0.055),(1991.90,0.048),(1991.99,-0.005),
(1992.10,-0.026),(1992.19,-0.005),(1992.30,-0.046),(1992.41,0.008),(1992.49,0.055),(1992.60,0.048),(1992.71,0.028),(1992.82,0.048),(1992.94,0.075),
(1993.05,0.042),(1993.16,0.015),(1993.27,0.001),(1993.38,0.015),(1993.49,0.062),(1993.57,0.095),(1993.66,0.062),(1993.75,0.129),(1993.86,0.156),(1993.97,0.190),
(1994.08,0.156),(1994.19,0.129),(1994.30,0.132),(1994.41,0.109),(1994.52,0.149),(1994.63,0.136),(1994.71,0.109),(1994.79,0.129),(1994.90,0.132),
(1995.01,0.163),(1995.12,0.149),(1995.21,0.116),(1995.30,0.149),(1995.38,0.183),(1995.45,0.253),(1995.54,0.250),(1995.63,0.203),(1995.71,0.203),(1995.80,0.212),(1995.88,0.163),(1995.97,0.095),
(1996.08,0.089),(1996.19,0.069),(1996.30,0.055),(1996.38,0.035),(1996.45,-0.026),(1996.54,0.008),(1996.63,0.055),(1996.74,0.048),(1996.82,0.095),(1996.90,0.116),(1996.99,0.089),
(1997.08,0.048),(1997.19,0.069),(1997.30,0.015),(1997.38,-0.046),(1997.45,0.035),(1997.54,0.069),(1997.63,0.022),(1997.74,-0.032),(1997.85,-0.032),(1997.96,-0.106),
(1998.04,-0.113),(1998.15,-0.079),(1998.26,-0.046),(1998.37,0.022),(1998.45,0.129),(1998.54,0.089),(1998.63,0.095),(1998.74,0.109),(1998.82,0.062),(1998.93,0.024),
(1999.04,0.048),(1999.15,0.048),(1999.26,0.062),(1999.37,0.075),(1999.48,0.142),(1999.59,0.163),(1999.71,0.210),(1999.78,0.203),(1999.85,0.129),(1999.96,0.089),
(2000.07,0.022),(2000.15,-0.019),(2000.24,-0.005),(2000.32,0.008),(2000.41,-0.059),(2000.48,-0.113),(2000.56,-0.133),(2000.65,-0.086),(2000.74,-0.059),(2000.82,-0.086),(2000.93,-0.019),
(2001.01,-0.066),(2001.09,-0.032),(2001.20,-0.026),(2001.29,-0.073),(2001.37,-0.052),(2001.45,-0.032),(2001.54,-0.086),(2001.63,-0.059),(2001.70,-0.032),(2001.81,-0.093),(2001.89,-0.153),(2001.98,-0.113),
(2002.05,-0.113),(2002.16,-0.099),(2002.27,-0.052),(2002.38,0.022),(2002.50,0.028),(2002.58,-0.005),(2002.66,-0.086),(2002.74,-0.005),(2002.83,0.042),(2002.94,0.008),
(2003.03,-0.012),(2003.14,-0.039),(2003.25,-0.052),(2003.36,-0.046),(2003.47,-0.012),(2003.58,0.022),(2003.69,0.008),(2003.81,-0.005),(2003.92,0.015),
(2004.03,0.015),(2004.11,-0.005),(2004.22,-0.012),(2004.33,-0.039),(2004.44,-0.052),(2004.55,0.028),(2004.63,0.042),(2004.72,0.015),(2004.80,0.008),(2004.92,0.001),
(2005.03,-0.052),(2005.10,-0.099),(2005.19,-0.079),(2005.30,-0.086),(2005.40,-0.133),(2005.49,-0.059),(2005.60,-0.039),(2005.71,-0.026),(2005.83,-0.046),(2005.94,0.015),
(2006.05,-0.012),(2006.16,-0.046),(2006.27,-0.066),(2006.38,-0.026),(2006.49,-0.012),(2006.60,-0.032),(2006.71,-0.026),(2006.82,-0.005),(2006.94,0.008),
(2007.02,-0.032),(2007.10,-0.093),(2007.21,-0.059),(2007.32,-0.019),(2007.43,0.008),(2007.51,0.035),(2007.60,0.048),(2007.71,0.055),(2007.82,-0.019),(2007.93,-0.086),
(2008.05,-0.120),(2008.16,-0.126),(2008.27,-0.120),(2008.38,-0.147),(2008.49,-0.191),(2008.60,-0.140),(2008.71,-0.079),(2008.82,-0.113),(2008.93,-0.167),
(2009.04,-0.113),(2009.16,-0.046),(2009.27,-0.005),(2009.35,0.035),(2009.47,-0.012),(2009.58,-0.079),(2009.69,-0.113),(2009.80,-0.140),(2009.91,-0.059),
(2010.02,-0.126),(2010.13,-0.180),(2010.24,-0.220),(2010.35,-0.247),(2010.43,-0.261),(2010.54,-0.207),(2010.65,-0.160),(2010.76,-0.180),(2010.88,-0.234),(2010.95,-0.274),
(2011.06,-0.187),(2011.18,-0.120),(2011.29,-0.167),(2011.40,-0.180),(2011.51,-0.113),(2011.62,-0.093),(2011.73,-0.086),(2011.84,-0.113),(2011.95,-0.147),
(2012.06,-0.126),(2012.15,-0.086),(2012.24,-0.052),(2012.35,-0.113),(2012.46,-0.180),(2012.57,-0.167),(2012.68,-0.173),(2012.80,-0.220),(2012.91,-0.254),
(2013.02,-0.200),(2013.13,-0.180),(2013.21,-0.126),(2013.28,-0.180),(2013.37,-0.167),(2013.48,-0.160),(2013.57,-0.194),(2013.68,-0.194),(2013.76,-0.220),(2013.87,-0.200),(2013.98,-0.194),
(2014.09,-0.113),(2014.20,-0.052),(2014.31,-0.032),(2014.43,-0.086),(2014.54,-0.140),(2014.65,-0.066),(2014.76,-0.026),(2014.87,-0.099),(2014.98,-0.126),
(2015.09,-0.059),(2015.20,-0.005),(2015.31,-0.052),(2015.43,-0.086),(2015.54,-0.126),(2015.65,-0.173),(2015.76,-0.126),(2015.87,-0.073),(2015.95,-0.019),
(2016.04,-0.059),(2016.15,0.008),(2016.26,0.035),(2016.37,0.035),(2016.48,-0.005),(2016.59,-0.052),(2016.70,0.008),(2016.81,0.062),(2016.92,0.089),
(2017.01,0.095),(2017.09,0.129),(2017.20,0.169),(2017.28,0.102),(2017.37,0.008),(2017.48,-0.059),(2017.59,-0.126),(2017.70,-0.073),(2017.81,-0.066),(2017.92,-0.059),
(2018.03,0.008),(2018.12,0.028),(2018.20,-0.039),(2018.28,-0.046),(2018.37,0.001),(2018.48,-0.086),(2018.59,-0.066),(2018.70,0.062),(2018.81,0.129),(2018.98,0.203)]
b2_l2 = [(1985.00,0.001),(1985.78,0.001),(1986.22,-0.005),(1986.44,-0.032),(1986.61,-0.059),(1986.83,-0.066),(1987.00,-0.052),(1987.22,-0.026),(1987.55,-0.026),
(1987.77,-0.012),(1988.22,-0.005),(1988.66,-0.012),(1989.11,-0.005),(1989.66,-0.012),(1990.22,-0.019),(1990.66,-0.022),(1991.33,-0.012),(1991.99,-0.019),
(1992.66,-0.022),(1993.32,-0.016),(1993.77,-0.030),(1994.21,-0.030),(1994.66,-0.032),(1995.32,-0.022),(1995.77,-0.016),(1996.32,-0.019),(1996.88,-0.026),
(1997.32,-0.032),(1997.99,-0.022),(1998.43,-0.030),(1998.87,-0.019),(1999.32,-0.016),(1999.76,-0.012),(2000.21,-0.005),(2000.65,0.001),(2001.09,0.008),
(2001.54,0.001),(2001.98,0.001),(2002.50,0.001),(2003.16,-0.005),(2003.83,-0.003),(2004.49,0.001),(2005.05,0.015),(2005.49,0.024),(2005.94,0.015),
(2006.49,0.019),(2007.05,0.022),(2007.49,0.011),(2008.05,0.019),(2008.49,0.024),(2008.93,0.015),(2009.38,0.019),(2009.82,0.015),(2010.26,0.022),
(2010.71,0.042),(2011.04,0.022),(2011.49,0.028),(2011.82,0.038),(2012.15,0.015),(2012.71,0.015),(2013.15,0.019),(2013.59,0.015),(2014.04,0.019),
(2014.70,0.008),(2015.15,0.008),(2015.59,0.015),(2016.04,0.024),(2016.48,0.024),(2016.92,0.022),(2017.37,0.028),(2017.81,0.019),(2018.26,0.022),
(2018.70,0.042),(2019.00,0.030)]
b2_l3 = [(1985,0.003),(1987,0.005),(1989,0.006),(1991,0.004),(1993,0.004),(1995,0.002),(1997,0.001),(1999,0.0),(2001,-0.003),(2003,-0.005),(2005,-0.005),
(2007,-0.004),(2009,-0.004),(2011,-0.005),(2013,-0.005),(2015,-0.006),(2017,-0.006),(2019,-0.006)]
b2_l4 = [(1985,0.0),(2000,0.0),(2010,-0.001),(2019,-0.002)]

# period-two-minus-period-one differences printed on the chart
diff_a1 = ["(\u22120.164)", "(\u22120.0133)", "(\u22120.110)", "(0.0386)"]
diff_a2 = ["(\u22120.0653)", "(\u22120.0211)", "(\u22120.0408)", "(\u22120.00122)"]
diff_b1 = ["(0.0488)", "(0.219)", "(0.0619)", "(0.0181)"]
diff_b2 = ["(\u22120.0962)", "(0.0284)", "(\u22120.00501)", "(\u22120.00209)"]

layer_names = ["Layer 1 [0\u201350 m]", "Layer 2 [50\u2013735 m]", "Layer 3 [735\u20131725 m]", "Layer 4 [1725\u20135000 m]"]
a3_names = ["Subdomain A [50\u20131725 m]", "Subpolar North Atlantic [50\u20131725 m]"]
periods = [(1996, 2005), (2010, 2019)]
years = list(range(1985, 2020))

# ---------------------------------------------------------------- styling
C_L = ["#1f77b4", "#ff7f0e", "#800080", "#d62728"]
C_SA, C_SP = "#0000ff", "#a52a2a"
L_STYLE = [dict(width=2.6, dash="solid"), dict(width=3.2, dash="11px,5px"),
           dict(width=3.6, dash="13px,4px,3px,4px"), dict(width=3.2, dash="3px,4px")]
FONT = "Liberation Sans, Arial, Helvetica, sans-serif"
NUMFONT = "DejaVu Sans, sans-serif"

W, H = 1338, 1163
ML, MR, MT, MB = 120, 26, 0, 73
PH = H - MT - MB
PW = W - ML - MR


def fy(ypx):
    return 1 - (ypx - MT) / PH


def fx(xpx):
    return (xpx - ML) / PW


fig = go.Figure()


def add(pairs, n, name, color, style, legend=None, show=False, shape="linear"):
    fig.add_trace(go.Scatter(
        x=[p[0] for p in pairs], y=[p[1] for p in pairs], mode="lines",
        line=dict(color=color, width=style["width"], dash=style["dash"], shape=shape),
        name=name, showlegend=show, legend=legend,
        xaxis="x" if n == 1 else f"x{n}", yaxis="y" if n == 1 else f"y{n}",
        hoverinfo="skip"))


def colored(text, color):
    return f'<span style="color:{color}">{text}</span>'


legend_ids = ["legend", "legend2", "legend3", "legend4", "legend5", "legend6"]
layer_panels = {1: [a1_l1, a1_l2, a1_l3, a1_l4], 2: [a2_l1, a2_l2, a2_l3, a2_l4],
                4: [b1_l1, b1_l2, b1_l3, b1_l4], 5: [b2_l1, b2_l2, b2_l3, b2_l4]}
for n, series in layer_panels.items():
    for k, s in enumerate(series):
        add(s, n, colored(layer_names[k], C_L[k]), C_L[k], L_STYLE[k],
            legend=legend_ids[k], show=(n == 1), shape="linear" if k == 0 else "spline")

add(a3_sub_a, 3, colored(a3_names[0], C_SA), C_SA, dict(width=3, dash="solid"),
    legend=legend_ids[4], show=True)
add(a3_spna, 3, colored(a3_names[1], C_SP), C_SP, dict(width=3, dash="14px,6px,3px,6px"),
    legend=legend_ids[5], show=True, shape="spline")

# panel geometry (pixel rows of each panel in the reference)
rows = {1: (38, 222), 2: (255, 440), 3: (472, 657), 4: (688, 873), 5: (905, 1090)}
yspec = {
    1: dict(range=[-1.54, 2.5], tv=[0, 2], tt=["0", "2"], minor=0.5, title="Potential temp. (\u00b0C)", so=17),
    2: dict(range=[-0.2, 0.24], tv=[-0.2, 0, 0.2], tt=["\u22120.2", "0.0", "0.2"], minor=0.05, title="Salinity (g/kg)", so=21),
    3: dict(range=[-0.09, 0.09], tv=[-0.05, 0, 0.05], tt=["\u22120.05", "0.00", "0.05"], minor=0.01, title="Salinity (g/kg)", so=24),
    4: dict(range=[-2, 2.5], tv=[-2, 0, 2], tt=["\u22122", "0", "2"], minor=0.5, title="Potential temp. (\u00b0C)", so=20),
    5: dict(range=[-0.32, 0.42], tv=[-0.25, 0, 0.25], tt=["\u22120.25", "0.00", "0.25"], minor=0.05, title="Salinity (g/kg)", so=24),
}
xt_text = [f"{y % 100:02d}" if (y - 1985) % 2 == 0 else "" for y in years]

layout = {}
shapes = []
for n in range(1, 6):
    xs = "" if n == 1 else str(n)
    top, bot = rows[n]
    sp = yspec[n]
    layout[f"yaxis{xs}"] = dict(
        domain=[fy(bot), fy(top)], range=sp["range"], anchor=f"x{xs}",
        tickmode="array", tickvals=sp["tv"], ticktext=sp["tt"],
        ticks="outside", ticklen=7, tickwidth=1.3, tickcolor="black",
        showline=True, linecolor="black", linewidth=1.3, mirror="ticks",
        showgrid=False, zeroline=False, automargin=False,
        minor=dict(tickmode="linear", tick0=0, dtick=sp["minor"], ticks="outside",
                   ticklen=4, tickwidth=1, tickcolor="black", showgrid=False),
        tickfont=dict(size=19, family=FONT, color="black"),
        title=dict(text=sp["title"], font=dict(size=23, family=FONT, color="black"), standoff=sp["so"]))
    layout[f"xaxis{xs}"] = dict(
        domain=[0, 1], range=[1985, 2019], anchor=f"y{xs}",
        tickmode="array", tickvals=years, ticktext=xt_text, showticklabels=(n == 5),
        ticks="outside", ticklen=7, tickwidth=1.3, tickcolor="black",
        showline=True, linecolor="black", linewidth=1.3, mirror=False,
        showgrid=False, zeroline=False, automargin=False,
        minor=dict(tickmode="linear", tick0=1985, dtick=0.2, ticks="outside",
                   ticklen=4, tickwidth=1, tickcolor="black", showgrid=False),
        tickfont=dict(size=19, family=FONT, color="black"),
        title=dict(text="Time (year)" if n == 5 else "", font=dict(size=23, family=FONT, color="black"), standoff=15))
    if n > 1:
        layout[f"xaxis{xs}"]["matches"] = "x"
    for (s, e) in periods:
        shapes.append(dict(type="rect", xref=f"x{xs}", yref=f"y{xs} domain", x0=s, x1=e, y0=0, y1=1,
                           fillcolor="#f4f4f4", line=dict(width=0), layer="below"))
    shapes.append(dict(type="line", xref=f"x{xs} domain", yref=f"y{xs}", x0=0, x1=1, y0=0, y1=0,
                       line=dict(color="black", width=1, dash="dot"), layer="below"))

annotations = []


def note(text, xpx, ypx, size=20, color="black", family=FONT, xanchor="center"):
    annotations.append(dict(text=text, x=fx(xpx), y=fy(ypx), xref="paper", yref="paper",
                            xanchor=xanchor, yanchor="middle", showarrow=False,
                            font=dict(size=size, color=color, family=family)))


note("Subdomain A", 740, 20, size=23)
note("Subdomain B", 740, 694, size=23)
note("(period two minus period one)", 1133, 20, size=21)
for txts, x0, ys, fs in [(diff_a1, 1098, [45, 68, 91, 114], 20), (diff_a2, 1098, [253, 281, 308, 335], 20),
                         (diff_b1, 1110, [681, 702, 724, 745], 19), (diff_b2, 1098, [905, 929, 953, 978], 20)]:
    for k, t in enumerate(txts):
        note(t, x0, ys[k], size=fs, color=C_L[k], family=NUMFONT, xanchor="left")
for lab, xp, yp in [("(a1)", 1240, 210), ("(a2)", 1270, 425), ("(a3)", 1250, 642),
                    ("(b1)", 1240, 858), ("(b2)", 1240, 1077)]:
    note(lab, xp, yp, size=20)

# legend entries: (left px, centre px from top, sample width)
legend_pos = [(146, 17, 62), (146, 41, 62), (146, 65, 62), (146, 89, 62), (861, 491, 67), (861, 516, 67)]
legends = {}
for lid, (lx, ly, iw) in zip(legend_ids, legend_pos):
    legends[lid] = dict(x=fx(lx), y=fy(ly), xanchor="left", yanchor="middle",
                        bgcolor="rgba(0,0,0,0)", font=dict(size=21, family=FONT),
                        itemwidth=iw, tracegroupgap=0, borderwidth=0)

fig.update_layout(
    width=W, height=H, autosize=False,
    margin=dict(l=ML, r=MR, t=MT, b=MB, pad=0, autoexpand=False),
    paper_bgcolor="white", plot_bgcolor="white",
    font=dict(family=FONT, color="black"),
    shapes=shapes, annotations=annotations,
    **legends, **layout)

fig.write_html("out.html", config={"displayModeBar": False},
               post_script="document.body.style.margin='0';document.body.style.overflow='hidden';")
